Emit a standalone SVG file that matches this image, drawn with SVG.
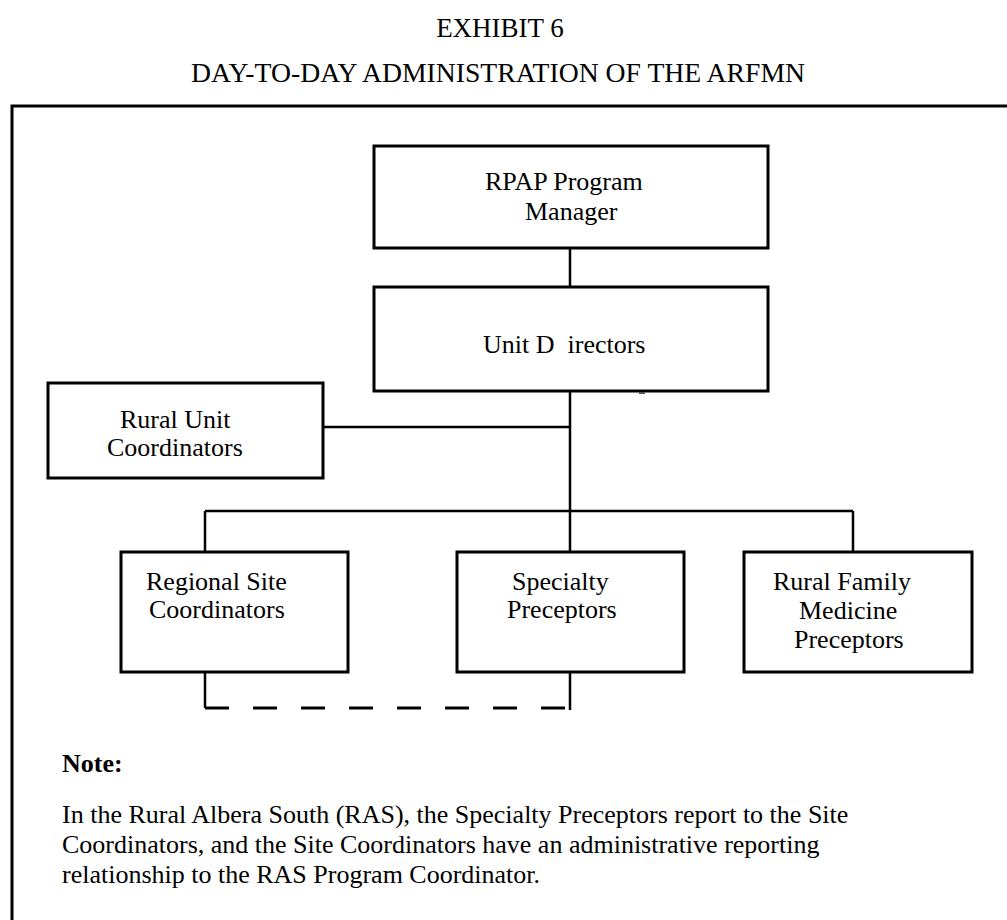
<svg xmlns="http://www.w3.org/2000/svg" width="1007" height="920" viewBox="0 0 1007 920">
<style>
  text { font-family: "Liberation Serif", "Times New Roman", serif; fill: #000; }
  .title { font-size: 27px; }
  .lbl { font-size: 26px; }
  .note { font-size: 26px; }
  .box { fill: #fff; stroke: #000; stroke-width: 3; }
  .ln { fill: none; stroke: #000; stroke-width: 2.5; }
  .dash { fill: none; stroke: #000; stroke-width: 3; stroke-dasharray: 24 24; }
</style>
<rect width="1007" height="920" fill="#fff"/>
<text class="title" x="500" y="37" text-anchor="middle">EXHIBIT 6</text>
<text class="title" x="498" y="82" text-anchor="middle" textLength="614" lengthAdjust="spacingAndGlyphs">DAY-TO-DAY ADMINISTRATION OF THE ARFMN</text>
<rect x="12" y="106" width="1100" height="900" fill="none" stroke="#000" stroke-width="3"/>

<g id="connectors">
  <line class="ln" x1="570" y1="248" x2="570" y2="287"/>
  <line class="ln" x1="570" y1="391" x2="570" y2="511"/>
  <line class="ln" x1="323" y1="427" x2="570" y2="427"/>
  <line class="ln" x1="205" y1="511" x2="853" y2="511"/>
  <line class="ln" x1="205" y1="511" x2="205" y2="552"/>
  <line class="ln" x1="570" y1="511" x2="570" y2="552"/>
  <line class="ln" x1="853" y1="511" x2="853" y2="552"/>
  <line class="ln" x1="205" y1="672" x2="205" y2="708"/>
  <line class="ln" x1="570" y1="672" x2="570" y2="710"/>
  <line class="dash" x1="205" y1="708" x2="570" y2="708"/>
</g>

<g id="rpap">
  <rect class="box" x="374" y="146" width="394" height="102"/>
  <text class="lbl" x="485" y="190">RPAP Program</text>
  <text class="lbl" x="525" y="220">Manager</text>
</g>
<g id="unit-directors">
  <rect class="box" x="374" y="287" width="394" height="104"/>
  <text class="lbl" x="483" y="353">Unit D&#160; irectors</text>
  <line x1="639" y1="393" x2="645" y2="393" stroke="#555" stroke-width="2"/>
</g>
<g id="rural-unit">
  <rect class="box" x="48" y="383" width="275" height="95"/>
  <text class="lbl" x="120" y="428">Rural Unit</text>
  <text class="lbl" x="107" y="456">Coordinators</text>
</g>
<g id="regional-site">
  <rect class="box" x="121" y="552" width="227" height="120"/>
  <text class="lbl" x="146" y="590">Regional Site</text>
  <text class="lbl" x="149" y="618">Coordinators</text>
</g>
<g id="specialty">
  <rect class="box" x="457" y="552" width="227" height="120"/>
  <text class="lbl" x="512" y="590">Specialty</text>
  <text class="lbl" x="507" y="618">Preceptors</text>
</g>
<g id="rural-family">
  <rect class="box" x="744" y="552" width="228" height="120"/>
  <text class="lbl" x="773" y="590">Rural Family</text>
  <text class="lbl" x="799" y="619">Medicine</text>
  <text class="lbl" x="794" y="648">Preceptors</text>
</g>

<g id="note">
  <text class="note" x="62" y="772" font-weight="bold">Note:</text>
  <text class="note" x="62" y="823">In the Rural Albera South (RAS), the Specialty Preceptors report to the Site</text>
  <text class="note" x="62" y="853">Coordinators, and the Site Coordinators have an administrative reporting</text>
  <text class="note" x="62" y="883">relationship to the RAS Program Coordinator.</text>
</g>
</svg>
